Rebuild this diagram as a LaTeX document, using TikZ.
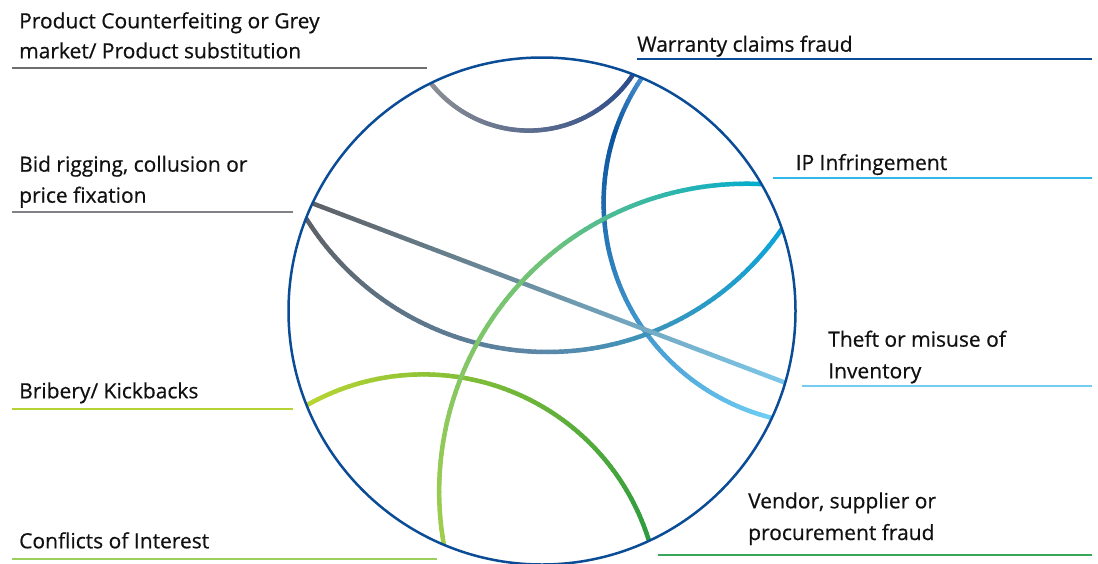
\documentclass[tikz,border=0pt]{standalone}
\usepackage{fontspec}
\setmainfont{Open Sans}[FakeBold=0.5]
\usetikzlibrary{calc}

% palette
\definecolor{ringblue}{HTML}{0B4C97}
\definecolor{labelink}{HTML}{111111}
\definecolor{greyrule}{HTML}{6D6E70}
\definecolor{bidrule}{HTML}{808285}
\definecolor{ipcyan}{HTML}{2FB8E8}
\definecolor{theftsky}{HTML}{74CCF0}
\definecolor{vendorgreen}{HTML}{3AA659}
\definecolor{bribelime}{HTML}{B5D334}
\definecolor{conflictgreen}{HTML}{9CCF5E}
% chord colours
\definecolor{cGreyA}{HTML}{8E9093}
\definecolor{cNavy}{HTML}{2A4A8B}
\definecolor{cBlueTip}{HTML}{4A92CF}
\definecolor{cBlueDeep}{HTML}{0A539E}
\definecolor{cSky}{HTML}{6FCFF5}
\definecolor{cSlate}{HTML}{5E6166}
\definecolor{cSkyB}{HTML}{7CC8EA}
\definecolor{cSteel}{HTML}{5C88A8}
\definecolor{cCyan}{HTML}{0AA6DA}
\definecolor{cTeal}{HTML}{00ACD0}
\definecolor{cMint}{HTML}{6CC27C}
\definecolor{cLeaf}{HTML}{A3CD48}
\definecolor{cLime}{HTML}{B9D532}
\definecolor{cForest}{HTML}{2A9A3F}

\tikzset{
  ring/.style={draw=ringblue, line width=2.5pt},
  chord/.style={line width=4.5pt, line cap=round, line join=round},
  rule/.style={line width=1.6pt},
  lbl/.style={anchor=base west, inner sep=0pt, text=labelink,
              font=\fontsize{21}{26}\selectfont},
}

\newcommand\nseg{90}
% gradient arc: centre x, centre y, radius, start angle, end angle,
% colour 1, colour 2, colour 3, position of colour 2 (0..1)
\newcommand\chordarc[9]{%
  \foreach \k in {1,...,\nseg}{%
    \pgfmathsetmacro\angA{#4+(#5-#4)*(\k-1)/\nseg}%
    \pgfmathsetmacro\angB{#4+(#5-#4)*\k/\nseg}%
    \pgfmathsetmacro\chT{(\k-0.5)/\nseg}%
    \ifdim\chT pt<#9pt
      \pgfmathtruncatemacro\mixp{100*\chT/#9}%
      \colorlet{segc}{#7!\mixp!#6}%
    \else
      \pgfmathtruncatemacro\mixp{100*(\chT-#9)/(1-#9)}%
      \colorlet{segc}{#8!\mixp!#7}%
    \fi
    \draw[chord, segc] ({#1+#3*cos(\angA)},{#2+#3*sin(\angA)})
      -- ({#1+#3*cos(\angB)},{#2+#3*sin(\angB)});
  }}
% gradient straight chord between two named coordinates
\newcommand\chordline[4]{%
  \foreach \k in {1,...,\nseg}{%
    \pgfmathsetmacro\tA{(\k-1)/\nseg}%
    \pgfmathsetmacro\tB{\k/\nseg}%
    \pgfmathtruncatemacro\mixp{100*(\k-0.5)/\nseg}%
    \colorlet{segc}{#4!\mixp!#3}%
    \draw[chord, segc] ($(#1)!\tA!(#2)$) -- ($(#1)!\tB!(#2)$);
  }}

\begin{document}
\begin{tikzpicture}[x=1pt, y=-1pt]
  \useasboundingbox (0,0) rectangle (1098,563);
  \fill[white] (0,0) rectangle (1098,563);

  \coordinate (hub) at (542,311);

  % chords, trimmed to the ring
  \begin{scope}
    \clip (hub) circle[radius=253.5];
    % counterfeiting -- warranty
    \chordarc{528.8}{5.7}{124.9}{143}{32.5}{cGreyA}{cNavy}{cNavy}{1}
    % warranty -- inventory
    \chordarc{825.7}{202.4}{222.1}{214.5}{103.5}{cBlueTip}{cBlueDeep}{cSky}{0.15}
    % bid rigging -- IP
    \chordarc{547.4}{67.3}{284.7}{148.5}{33.8}{cSlate}{cSteel}{cCyan}{0.5}
    % bribery -- vendor
    \chordarc{423.4}{610.5}{236.1}{-120}{-15.5}{cLime}{cForest}{cForest}{1}
    % bid rigging -- inventory
    \coordinate (bidend) at (311.5,203);
    \coordinate (theftend) at (786,383);
    \chordline{bidend}{theftend}{cSlate}{cSkyB}
    % IP -- conflicts of interest
    \chordarc{746.75}{491.3}{307.6}{273.5}{168.2}{cTeal}{cMint}{cLeaf}{0.4}
  \end{scope}

  \draw[ring] (hub) circle[radius=253.5];

  % labels and their rules
  \node[lbl] (pc1) at (19,28.3) {Product Counterfeiting or Grey};
  \node[lbl] (pc2) at (19,58.3) {market/ Product substitution};
  \coordinate (pcA) at (11.7,68); \coordinate (pcB) at (426.7,68);
  \draw[rule, greyrule] (pcA) -- (pcB);

  \node[lbl] (wc) at (637,51.7) {Warranty claims fraud};
  \coordinate (wcA) at (637.3,59); \coordinate (wcB) at (1091.7,59);
  \draw[rule, ringblue] (wcA) -- (wcB);

  \node[lbl] (ip) at (795.5,170) {IP Infringement};
  \coordinate (ipA) at (773.3,178); \coordinate (ipB) at (1091.7,178);
  \draw[rule, ipcyan] (ipA) -- (ipB);

  \node[lbl] (bid1) at (19,171.7) {Bid rigging, collusion or};
  \node[lbl] (bid2) at (19,202.7) {price fixation};
  \coordinate (bidA) at (11.7,212); \coordinate (bidB) at (293.3,212);
  \draw[rule, bidrule] (bidA) -- (bidB);

  \node[lbl] (bri) at (19,398.3) {Bribery/ Kickbacks};
  \coordinate (briA) at (11.7,409); \coordinate (briB) at (293.3,409);
  \draw[rule, bribelime] (briA) -- (briB);

  \node[lbl] (th1) at (828,346.7) {Theft or misuse of};
  \node[lbl] (th2) at (828,378.3) {Inventory};
  \coordinate (thA) at (801.7,386); \coordinate (thB) at (1092,386);
  \draw[rule, theftsky] (thA) -- (thB);

  \node[lbl] (ve1) at (748,508.3) {Vendor, supplier or};
  \node[lbl] (ve2) at (748,540) {procurement fraud};
  \coordinate (veA) at (658,555); \coordinate (veB) at (1092,555);
  \draw[rule, vendorgreen] (veA) -- (veB);

  \node[lbl] (coi) at (19,548.3) {Conflicts of Interest};
  \coordinate (coA) at (11.7,559); \coordinate (coB) at (436.7,559);
  \draw[rule, conflictgreen] (coA) -- (coB);
\end{tikzpicture}
\end{document}
